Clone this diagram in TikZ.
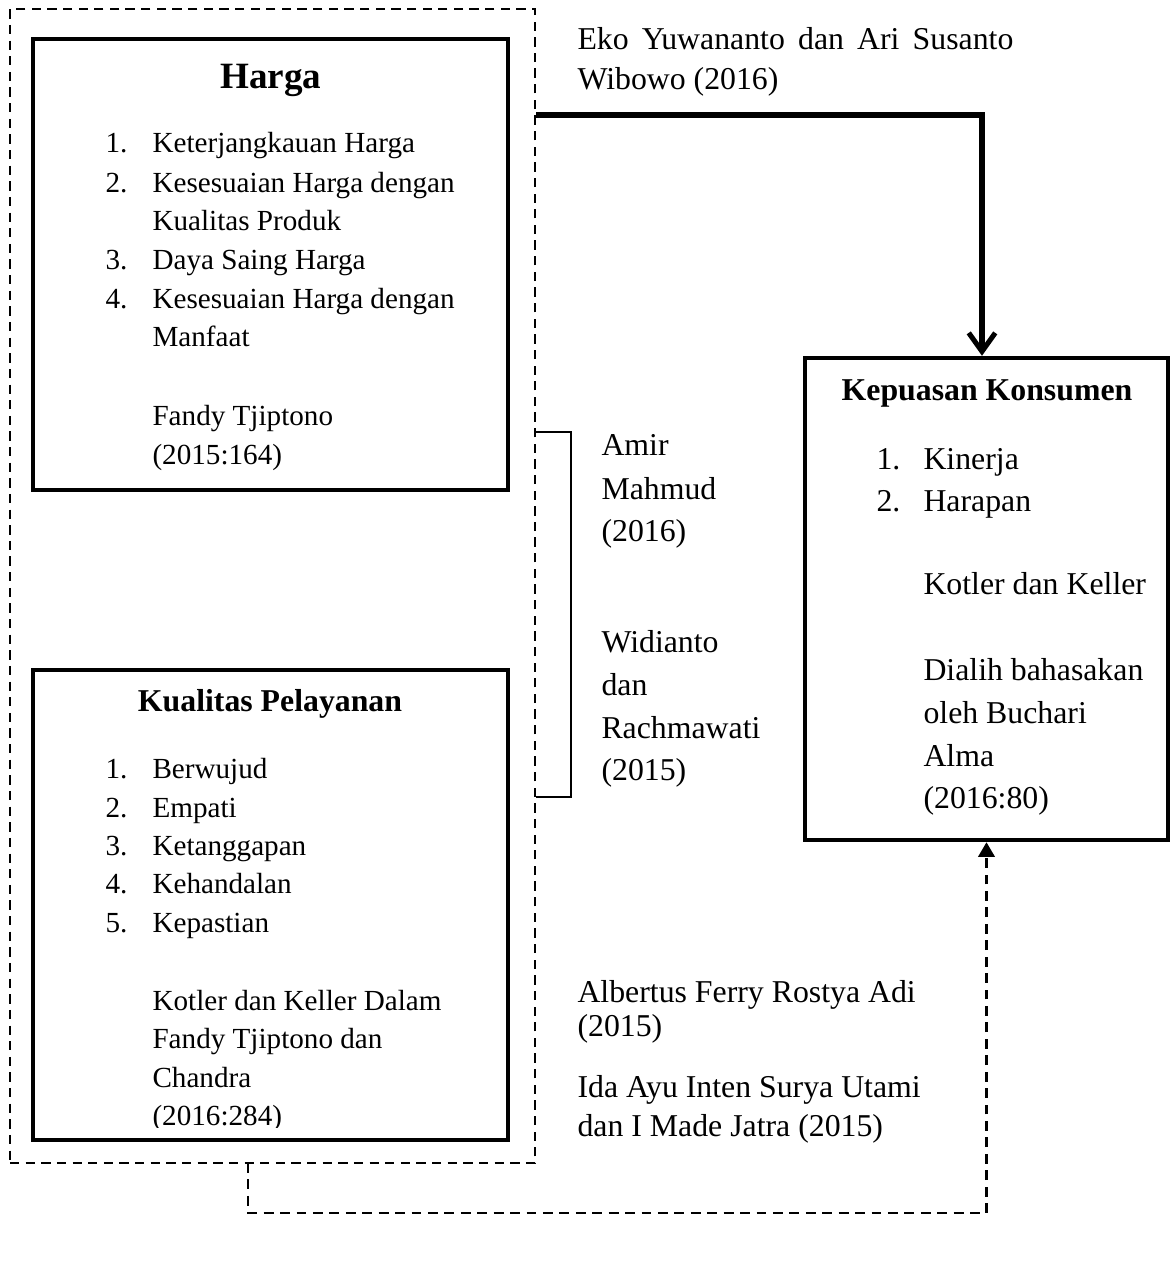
\documentclass[tikz,border=0pt]{standalone}
\usepackage{fontspec}
\setmainfont{Liberation Serif}
\usetikzlibrary{arrows.meta,fit}
\begin{document}
\begin{tikzpicture}[x=0.3774pt,y=-0.3774pt,
  box/.style={draw, line width=1.7pt, inner sep=0pt},
  grpbox/.style={draw, line width=0.85pt, dash pattern=on 3.5pt off 2.4pt, inner sep=0pt},
  ln/.style={anchor=base west, inner sep=0pt, font=\fontsize{12}{14}\selectfont},
  sln/.style={anchor=base west, inner sep=0pt, font=\fontsize{11}{13}\selectfont},
  ttl/.style={anchor=base, inner sep=0pt, font=\fontsize{12}{14}\selectfont\bfseries},
  mainarrow/.style={line width=1.9pt, -{Straight Barb[length=7pt,width=10pt,line width=1.9pt]}},
  dasharrow/.style={line width=0.85pt, dash pattern=on 3.7pt off 2.5pt, -{Triangle[length=5.5pt,width=6.2pt]}},
  bracketline/.style={line width=0.6pt}]
\useasboundingbox (0,0) rectangle (1171,1279);

% group and boxes
\node[grpbox, fit={(10,9)(535,1163)}] (grp) {};
\node[box, fit={(33,39)(508,490)}] (harga) {};
\node[box, fit={(33,670)(508,1140)}] (kual) {};
\node[box, fit={(805,358)(1168,840)}] (kep) {};

% Harga
\node[anchor=base, inner sep=0pt, font=\fontsize{14}{16}\selectfont\bfseries] (hT) at (271,88) {Harga};
\node[sln] (h1n) at (105,152) {1.};
\node[sln] (h1) at (152,152) {Keterjangkauan Harga};
\node[sln] (h2n) at (105,192) {2.};
\node[sln] (h2) at (152,192) {Kesesuaian Harga dengan};
\node[sln] (h2b) at (152,230) {Kualitas Produk};
\node[sln] (h3n) at (105,269) {3.};
\node[sln] (h3) at (152,269) {Daya Saing Harga};
\node[sln] (h4n) at (105,308) {4.};
\node[sln] (h4) at (152,308) {Kesesuaian Harga dengan};
\node[sln] (h4b) at (152,346) {Manfaat};
\node[sln] (hr1) at (152,425) {Fandy Tjiptono};
\node[sln] (hr2) at (152,464) {(2015:164)};

% Kualitas Pelayanan
\node[ttl] (kT) at (270,711) {Kualitas Pelayanan};
\node[sln] (k1n) at (105,778) {1.};
\node[sln] (k1) at (152,778) {Berwujud};
\node[sln] (k2n) at (105,817) {2.};
\node[sln] (k2) at (152,817) {Empati};
\node[sln] (k3n) at (105,855) {3.};
\node[sln] (k3) at (152,855) {Ketanggapan};
\node[sln] (k4n) at (105,893) {4.};
\node[sln] (k4) at (152,893) {Kehandalan};
\node[sln] (k5n) at (105,932) {5.};
\node[sln] (k5) at (152,932) {Kepastian};
\node[sln] (kr1) at (152,1010) {Kotler dan Keller Dalam};
\node[sln] (kr2) at (152,1048) {Fandy Tjiptono dan};
\node[sln] (kr3) at (152,1087) {Chandra};
\begin{scope}
\clip (33,1000) rectangle (508,1127);
\node[sln] (kr4) at (152,1125) {(2016:284)};
\end{scope}

% Kepuasan Konsumen
\node[ttl] (pT) at (987,400) {Kepuasan Konsumen};
\node[ln] (p1n) at (876,469) {1.};
\node[ln] (p1) at (923,469) {Kinerja};
\node[ln] (p2n) at (876,511) {2.};
\node[ln] (p2) at (923,511) {Harapan};
\node[ln] (pr1) at (923,594) {Kotler dan Keller};
\node[ln] (pr2) at (923,680) {Dialih bahasakan};
\node[ln] (pr3) at (923,723) {oleh Buchari};
\node[ln] (pr4) at (923,766) {Alma};
\node[ln] (pr5) at (923,808) {(2016:80)};

% citations
\node[ln] (eko1) at (577,49) {\makebox[164.5pt][s]{Eko Yuwananto dan Ari Susanto}};
\node[ln] (eko2) at (577,89) {Wibowo (2016)};
\node[ln] (am1) at (601,455) {Amir};
\node[ln] (am2) at (601,499) {Mahmud};
\node[ln] (am3) at (601,541) {(2016)};
\node[ln] (wi1) at (601,652) {Widianto};
\node[ln] (wi2) at (601,695) {dan};
\node[ln] (wi3) at (601,738) {Rachmawati};
\node[ln] (wi4) at (601,780) {(2015)};
\node[ln] (al1) at (577,1002) {Albertus Ferry Rostya Adi};
\node[ln] (al2) at (577,1036) {(2015)};
\node[ln] (id1) at (577,1097) {Ida Ayu Inten Surya Utami};
\node[ln] (id2) at (577,1136) {dan I Made Jatra (2015)};

% connectors
\coordinate (mstart) at (grp.east |- 0,115);
\coordinate (mturn) at (982,115);
\draw[mainarrow] (mstart) -- (mturn) -- (mturn |- kep.north);

\coordinate (b1) at (grp.east |- 0,432);
\coordinate (b2) at (grp.east |- 0,797);
\draw[bracketline] (b1) -- ++(35,0) |- (b2);

\coordinate (dstart) at (248,1163);
\coordinate (dturn) at (248,1213);
\draw[dasharrow] (dstart) -- (dturn) -| (kep.south);
\end{tikzpicture}
\end{document}
